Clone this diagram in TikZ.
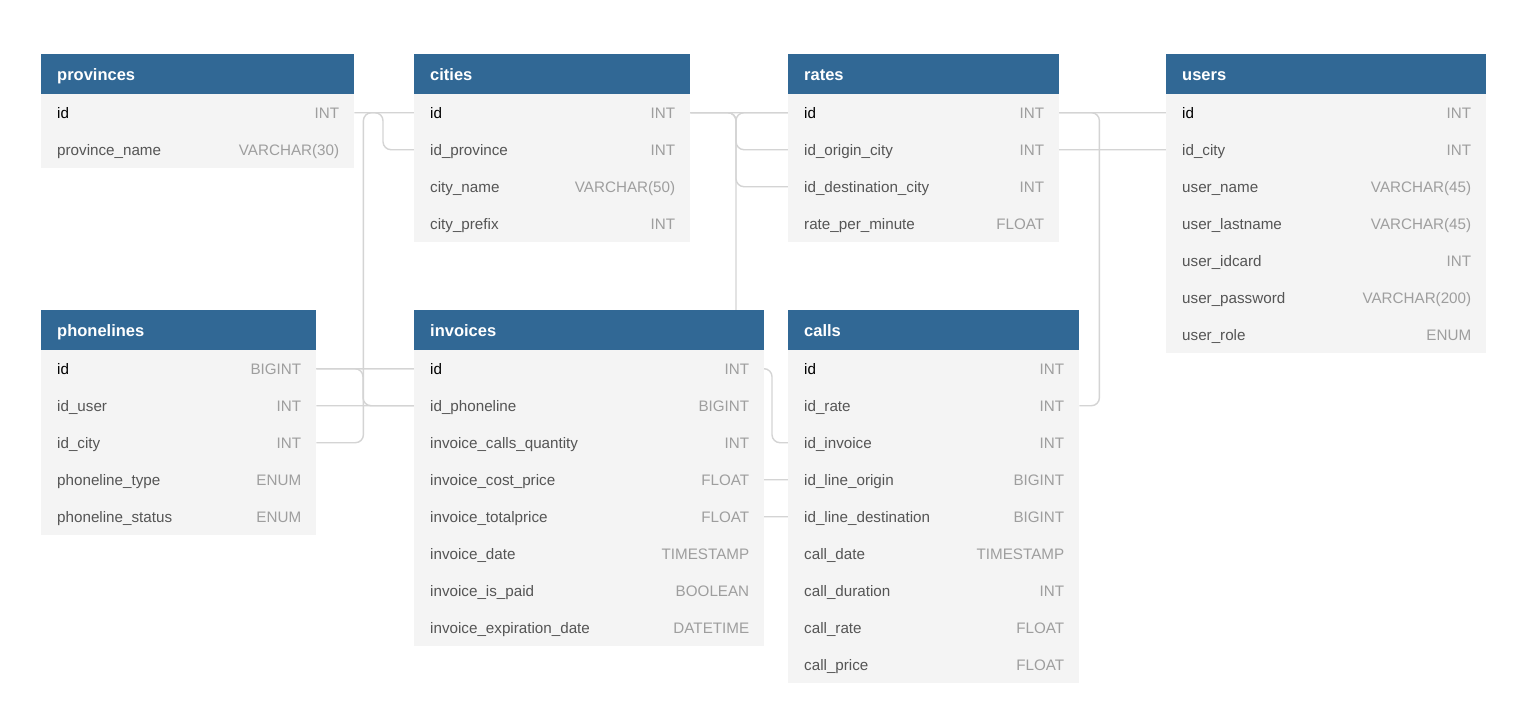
\documentclass[tikz,border=0pt]{standalone}
\usepackage{fontspec}
\setmainfont{Liberation Sans}
\usetikzlibrary{calc}
\definecolor{hdrblue}{HTML}{316895}
\definecolor{bodygray}{HTML}{F4F4F4}
\definecolor{namegray}{HTML}{555555}
\definecolor{typegray}{HTML}{9E9E9E}
\definecolor{linegray}{HTML}{D4D4D4}
\pgfdeclarelayer{bg}
\pgfsetlayers{bg,main}
\tikzset{
  hdr/.style={rectangle, fill=hdrblue, minimum height=40pt, inner sep=0pt, anchor=north west},
  hdrtext/.style={text=white, font=\fontsize{16.5}{19}\selectfont\bfseries, inner sep=0pt, anchor=base west},
  rowbox/.style={rectangle, fill=bodygray, minimum height=37pt, inner sep=0pt, anchor=north west},
  fname/.style={font=\fontsize{15.2}{18}\selectfont, inner sep=0pt, anchor=base west},
  ftype/.style={text=typegray, font=\fontsize{15.2}{18}\selectfont, inner sep=0pt, anchor=base east},
  conn/.style={draw=linegray, line width=1.4pt, rounded corners=8pt}
}
% #1 name, #2 x, #3 y, #4 width, #5 title, #6 rows name/type
\newcommand\dbtable[6]{%
  \node[hdr, minimum width=#4pt] (#1) at (#2,#3) {};
  \node[hdrtext] (#1-title) at ($(#1.west)+(16,6)$) {#5};
  \foreach [count=\i] \f/\t in {#6} {
    \ifnum\i=1 \def\fc{black}\else\def\fc{namegray}\fi
    \node[rowbox, minimum width=#4pt] (#1-\i) at (#2,{#3+40+37*(\i-1)}) {};
    \node[fname, text=\fc] (#1-\i-n) at ($(#1-\i.west)+(16,5.5)$) {\f};
    \node[ftype] (#1-\i-t) at ($(#1-\i.east)+(-15,5.5)$) {\t};
  }
}
\begin{document}
\begin{tikzpicture}[x=1pt,y=-1pt]
\useasboundingbox (0,0) rectangle (1521,713);

\dbtable{provinces}{41}{54}{313}{provinces}{id/INT, province\_name/VARCHAR(30)}
\dbtable{cities}{414}{54}{276}{cities}{id/INT, id\_province/INT, city\_name/VARCHAR(50), city\_prefix/INT}
\dbtable{rates}{788}{54}{271}{rates}{id/INT, id\_origin\_city/INT, id\_destination\_city/INT, rate\_per\_minute/FLOAT}
\dbtable{users}{1166}{54}{320}{users}{id/INT, id\_city/INT, user\_name/VARCHAR(45), user\_lastname/VARCHAR(45), user\_idcard/INT, user\_password/VARCHAR(200), user\_role/ENUM}
\dbtable{phonelines}{41}{310}{275}{phonelines}{id/BIGINT, id\_user/INT, id\_city/INT, phoneline\_type/ENUM, phoneline\_status/ENUM}
\dbtable{invoices}{414}{310}{350}{invoices}{id/INT, id\_phoneline/BIGINT, invoice\_calls\_quantity/INT, invoice\_cost\_price/FLOAT, invoice\_totalprice/FLOAT, invoice\_date/TIMESTAMP, invoice\_is\_paid/BOOLEAN, invoice\_expiration\_date/DATETIME}
\dbtable{calls}{788}{310}{291}{calls}{id/INT, id\_rate/INT, id\_invoice/INT, id\_line\_origin/BIGINT, id\_line\_destination/BIGINT, call\_date/TIMESTAMP, call\_duration/INT, call\_rate/FLOAT, call\_price/FLOAT}

\begin{pgfonlayer}{bg}
\fill[white] (0,0) rectangle (1521,713);
% provinces.id - cities.id_province
\draw[conn] (provinces-1.east) -| ([xshift=-31pt]cities-2.west) -- (cities-2.west);
% cities.id - phonelines.id_city
\draw[conn] (cities-1.west) -| ([xshift=47pt]phonelines-3.east) -- (phonelines-3.east);
% phonelines.id - invoices.id_phoneline
\draw[conn] (phonelines-1.east) -| ([xshift=-51pt]invoices-2.west) -- (invoices-2.west);
% phonelines.id - calls.id_line_origin / id_line_destination
\draw[conn] (phonelines-1.east) -| ([xshift=-170pt]calls-4.west) -- (calls-4.west);
\draw[conn] (phonelines-1.east) -| ([xshift=-160pt]calls-5.west) -- (calls-5.west);
% users.id - phonelines.id_user
\draw[conn] (phonelines-2.east) -| ([xshift=-52pt]rates-1.west) -- (users-1.west);
% cities.id - rates.id_origin_city / id_destination_city
\draw[conn] (cities-1.east) -| ([xshift=-52pt]rates-2.west) -- (rates-2.west);
\draw[conn] (cities-1.east) -| ([xshift=-52pt]rates-3.west) -- (rates-3.west);
% cities.id - users.id_city
\draw[conn] (cities-1.east) -| ([xshift=-250pt]users-2.west) -- (users-2.west);
% rates.id - calls.id_rate
\draw[conn] (rates-1.east) -| ([xshift=20pt]calls-2.east) -- (calls-2.east);
% invoices.id - calls.id_invoice
\draw[conn] (invoices-1.east) -| ([xshift=-16pt]calls-3.west) -- (calls-3.west);
\end{pgfonlayer}
\end{tikzpicture}
\end{document}
